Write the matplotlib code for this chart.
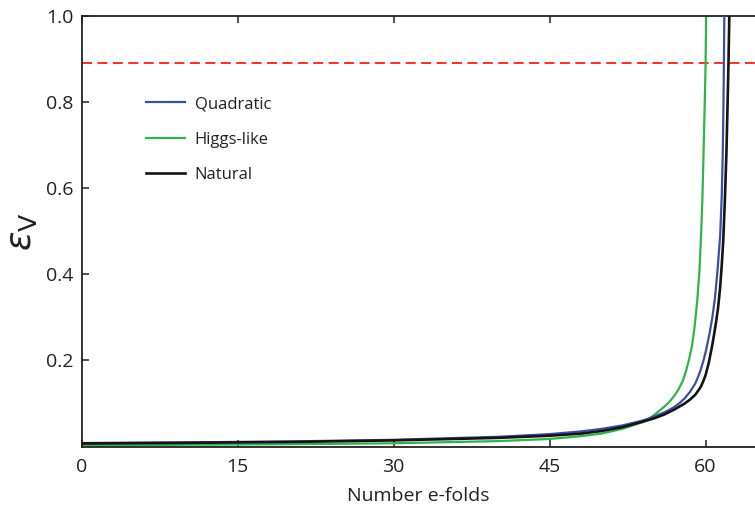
import matplotlib
matplotlib.use("Agg")
import matplotlib.pyplot as plt

plt.rcParams['font.family'] = ['Open Sans', 'DejaVu Sans']
plt.rcParams['mathtext.fontset'] = 'dejavusans'

# Quadratic
quad_n = [0, 10, 20, 30, 40, 45, 48, 50, 52, 54, 55, 56, 56.5, 57, 57.5, 58, 58.5, 59,
          59.25, 59.5, 59.8, 60.05, 60.4, 60.65, 60.9, 61.15, 61.4, 61.55, 61.65,
          61.72, 61.76, 61.8]
quad_e = [0.0081, 0.0096, 0.0118, 0.0155, 0.0225, 0.0288, 0.035, 0.041, 0.049, 0.0606,
          0.069, 0.079, 0.085, 0.092, 0.101, 0.112, 0.127, 0.146,
          0.160, 0.176, 0.200, 0.224, 0.265, 0.300, 0.345, 0.410, 0.490, 0.580, 0.680,
          0.800, 0.890, 1.0]

# Higgs-like
higgs_n = [0, 10, 20, 30, 40, 45, 48, 50, 52, 54, 54.5, 55, 55.5, 56, 56.5, 57, 57.4,
           57.8, 58.1, 58.4, 58.7, 58.95, 59.2, 59.4, 59.55, 59.7, 59.82, 59.92,
           60.0, 60.05]
higgs_e = [0.003, 0.004, 0.0053, 0.0075, 0.0125, 0.0175, 0.024, 0.030, 0.041, 0.057,
           0.064, 0.072, 0.082, 0.092, 0.103, 0.118, 0.133,
           0.152, 0.174, 0.201, 0.235, 0.280, 0.340, 0.405, 0.480, 0.580, 0.700, 0.800,
           0.890, 1.0]

# Natural
nat_n = [0, 10, 20, 30, 40, 45, 48, 50, 52, 54, 55, 56, 57, 58, 58.5, 59, 59.5, 59.75,
         60, 60.3, 60.6, 60.8, 61.0, 61.2, 61.4, 61.55, 61.7, 61.85, 62.0, 62.1,
         62.2, 62.28]
nat_e = [0.007, 0.0085, 0.0105, 0.0142, 0.020, 0.025, 0.030, 0.036, 0.045, 0.058,
         0.065, 0.074, 0.086, 0.100, 0.109, 0.120, 0.137, 0.150,
         0.166, 0.194, 0.230, 0.258, 0.288, 0.322, 0.370, 0.420, 0.480, 0.570, 0.680,
         0.780, 0.890, 1.0]

threshold = 0.89
xticks = [0, 15, 30, 45, 60]
yticks = [0.2, 0.4, 0.6, 0.8, 1.0]
labels = ['Quadratic', 'Higgs-like', 'Natural']

fig = plt.figure(figsize=(7.55, 5.12), dpi=100)
ax = fig.add_axes([81.5/755, 1-446.5/512, 1-81.5/755, (446.5-16)/512])

ax.axhline(threshold, color='#ee3a2c', lw=1.5, dashes=(4.8, 2.6), zorder=1)
ax.plot(quad_n, quad_e, color='#3b4ea6', lw=1.6, label=labels[0], zorder=3)
ax.plot(higgs_n, higgs_e, color='#2fb34a', lw=1.6, label=labels[1], zorder=2)
ax.plot(nat_n, nat_e, color='#141414', lw=1.9, label=labels[2], zorder=4)

ax.set_xlim(0, 64.75)
ax.set_ylim(0, 1.0)
ax.set_xticks(xticks)
ax.set_xticklabels([str(t) for t in xticks])
ax.set_yticks(yticks)
ax.set_yticklabels(['%.1f' % t for t in yticks])
ax.tick_params(direction='in', length=5, width=1.1, top=True, right=False,
               labelsize=14, colors='#222222', pad=8)
ax.tick_params(axis='y', pad=6)
for s in ['left', 'bottom', 'top']:
    ax.spines[s].set_linewidth(1.3)
    ax.spines[s].set_color('#222222')
ax.spines['right'].set_visible(False)

ax.set_xlabel('Number e-folds', fontsize=14, color='#222222', labelpad=8)
ax.set_ylabel(r'$\varepsilon_{\mathrm{V}}$', fontsize=26, color='#222222', labelpad=4)

leg = ax.legend(loc='upper left', bbox_to_anchor=(138/755, 1-88/512),
                bbox_transform=fig.transFigure, frameon=False, fontsize=12,
                handlelength=2.3, handletextpad=0.6, labelspacing=1.17, borderpad=0)
for t in leg.get_texts():
    t.set_color('#222222')

fig.savefig('out.png', dpi=100)
